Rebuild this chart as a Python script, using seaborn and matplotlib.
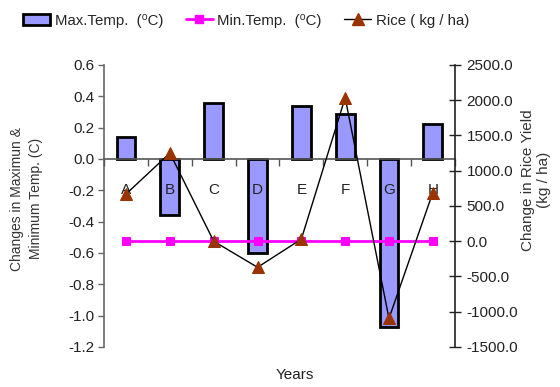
import numpy as np
import pandas as pd
import matplotlib
matplotlib.use("Agg")
import matplotlib.pyplot as plt
import seaborn as sns
from matplotlib.lines import Line2D
from matplotlib.patches import Patch
from matplotlib.ticker import FormatStrFormatter, FixedLocator

sns.set_theme(style="white")
plt.rcParams['font.family'] = ['Liberation Sans', 'DejaVu Sans']

years = ["A", "B", "C", "D", "E", "F", "G", "H"]
max_temp = [0.14, -0.36, 0.36, -0.60, 0.34, 0.285, -1.07, 0.225]
min_temp = [0.0, 0.0, 0.0, 0.0, 0.0, 0.0, 0.0, 0.0]
rice = [670, 1250, 0, -370, 30, 2035, -1095, 690]
left_ticks = [-1.2, -1.0, -0.8, -0.6, -0.4, -0.2, 0.0, 0.2, 0.4, 0.6]
right_ticks = [-1500, -1000, -500, 0, 500, 1000, 1500, 2000, 2500]

df = pd.DataFrame({"Year": years, "Max": max_temp, "Min": min_temp, "Rice": rice})
df["pos"] = np.arange(len(years))

fig = plt.figure(figsize=(5.6, 3.87), dpi=100)
ax = fig.add_axes([0.186, 0.1034, 0.626, 0.7287])

bar_color = "#9999FF"
sns.barplot(data=df, x="Year", y="Max", ax=ax, color=bar_color, saturation=1,
            edgecolor="black", linewidth=2, width=0.43)
ax.set_axisbelow(False)
ax.set_xlim(-0.5, len(years) - 0.5)
ax.set_ylim(-1.2, 0.6)
ax.yaxis.set_major_locator(FixedLocator(left_ticks))
ax.yaxis.set_major_formatter(FormatStrFormatter("%.1f"))

for s in ["top", "right"]:
    ax.spines[s].set_visible(False)
ax.spines["left"].set_color("#666666")
ax.spines["left"].set_linewidth(1.2)
ax.spines["bottom"].set_position(("data", 0))
ax.spines["bottom"].set_color("#555555")
ax.spines["bottom"].set_linewidth(1.2)

ax.tick_params(axis="y", which="major", direction="out", length=4, width=1,
               color="#666666", labelsize=11, labelcolor="#222222", left=True, pad=3)
ax.set_xticks(np.arange(len(years)))
ax.set_xticks(np.arange(len(years) + 1) - 0.5, minor=True)
ax.tick_params(axis="x", which="major", length=0, pad=17, labelsize=11, labelcolor="#222222")
ax.tick_params(axis="x", which="minor", direction="out", length=5, width=1,
               color="#555555", bottom=True)
ax.set_xlabel("")
ax.set_ylabel("")

ax2 = ax.twinx()
ax2.patch.set_visible(False)
sns.lineplot(data=df, x="pos", y="Min", ax=ax2, color="#FF00FF", linewidth=2,
             marker="s", markersize=6, markeredgecolor="#FF00FF", legend=False)
sns.lineplot(data=df, x="pos", y="Rice", ax=ax2, color="black", linewidth=1,
             marker="^", markersize=9, markerfacecolor="#993300",
             markeredgecolor="#993300", legend=False)
ax2.set_xlim(-0.5, len(years) - 0.5)
ax2.set_ylim(-1500, 2500)
ax2.yaxis.set_major_locator(FixedLocator(right_ticks))
ax2.yaxis.set_major_formatter(FormatStrFormatter("%.1f"))
for s in ["top", "left", "bottom"]:
    ax2.spines[s].set_visible(False)
ax2.spines["right"].set_color("#222222")
ax2.spines["right"].set_linewidth(1.2)
ax2.tick_params(axis="y", direction="inout", length=9, width=1, color="#222222",
                labelsize=11, labelcolor="#222222", right=True, pad=4)
ax2.set_ylabel("")
ax2.set_xlabel("")

fig.text(0.048, 0.486, "Changes in Maximun &\nMinimum Temp. (C)", rotation=90,
         ha="center", va="center", fontsize=10, color="#333333", linespacing=1.45)
fig.text(0.957, 0.535, "Change in Rice Yield\n(kg / ha)", rotation=90,
         ha="center", va="center", fontsize=11, color="#333333", linespacing=1.25)
fig.text(0.527, 0.03, "Years", ha="center", va="center", fontsize=11, color="#222222")

handles = [
    Patch(facecolor=bar_color, edgecolor="black", linewidth=2),
    Line2D([], [], color="#FF00FF", linewidth=2, marker="s", markersize=6),
    Line2D([], [], color="black", linewidth=1, marker="^", markersize=9,
           markerfacecolor="#993300", markeredgecolor="#993300"),
]
labels = ["Max.Temp.  (\u2070C)", "Min.Temp.  (\u2070C)", "Rice ( kg / ha)"]
fig.legend(handles, labels, loc="upper center", bbox_to_anchor=(0.44, 1.0), ncol=3,
           frameon=False, fontsize=10.8, handlelength=1.8, handletextpad=0.3,
           columnspacing=1.5)

fig.savefig("out.png", dpi=100)
